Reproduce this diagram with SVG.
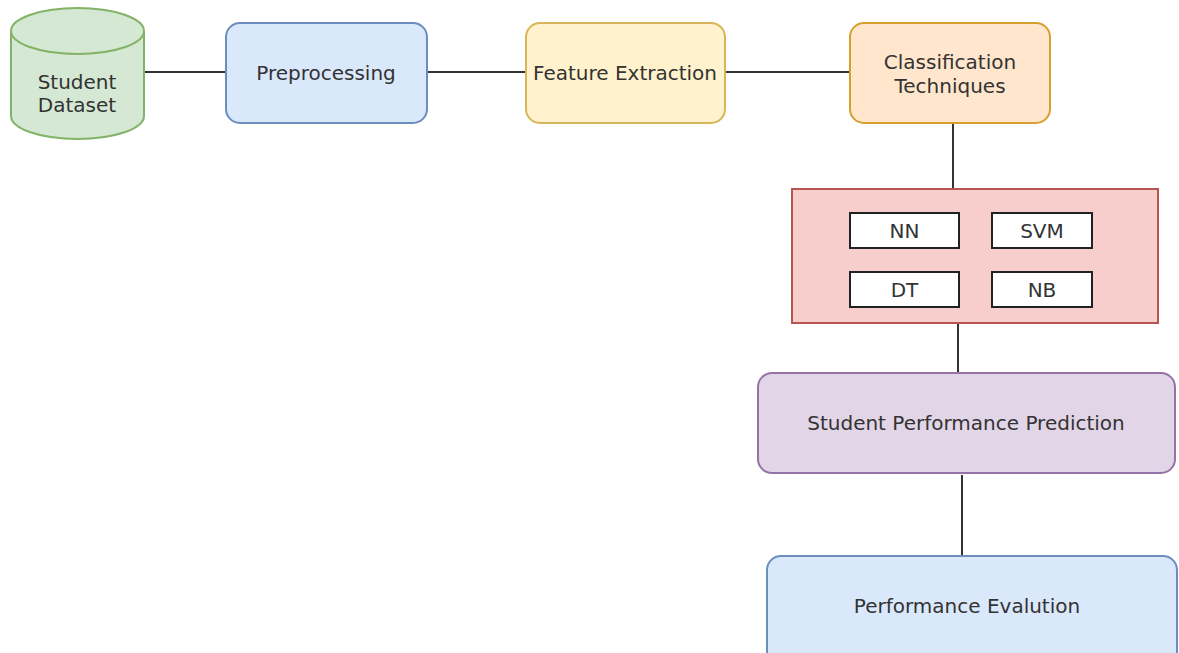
<svg xmlns="http://www.w3.org/2000/svg" width="1179" height="653" viewBox="0 0 1179 653">
<style>
text{font-family:"DejaVu Sans","Liberation Sans",sans-serif;font-size:20px;fill:#333;text-anchor:middle;dominant-baseline:central}
.edge{stroke:#333;stroke-width:2;fill:none}
.algo{fill:#fff;stroke:#222;stroke-width:2}
</style>
<rect width="1179" height="653" fill="#fff"/>
<g id="connectors">
<line class="edge" x1="144" y1="72" x2="226" y2="72"/>
<line class="edge" x1="427" y1="72" x2="526" y2="72"/>
<line class="edge" x1="725" y1="72" x2="850" y2="72"/>
<line class="edge" x1="953" y1="123" x2="953" y2="189"/>
<line class="edge" x1="958" y1="323" x2="958" y2="373"/>
<line class="edge" x1="962" y1="475" x2="962" y2="556"/>
</g>
<g id="student-dataset">
<path d="M11,31 L11,116 A66.5,23 0 0 0 144,116 L144,31 A66.5,23 0 0 0 11,31 Z" fill="#d5e8d4" stroke="#82b366" stroke-width="2"/>
<path d="M11,31 A66.5,23 0 0 0 144,31" fill="none" stroke="#82b366" stroke-width="2"/>
<text x="77" y="82">Student</text>
<text x="77" y="105">Dataset</text>
</g>
<g id="preprocessing">
<rect x="226" y="23" width="201" height="100" rx="14" fill="#dae8fc" stroke="#6c8ebf" stroke-width="2"/>
<text x="326" y="73">Preprocessing</text>
</g>
<g id="feature-extraction">
<rect x="526" y="23" width="199" height="100" rx="14" fill="#fff2cc" stroke="#d6b656" stroke-width="2"/>
<text x="625" y="73">Feature Extraction</text>
</g>
<g id="classification">
<rect x="850" y="23" width="200" height="100" rx="14" fill="#ffe6cc" stroke="#d6a030" stroke-width="2"/>
<text x="950" y="62">Classification</text>
<text x="950" y="86">Techniques</text>
</g>
<g id="algorithms">
<rect x="792" y="189" width="366" height="134" fill="#f8cecc" stroke="#b85450" stroke-width="2"/>
<g id="nn"><rect class="algo" x="850" y="213" width="109" height="35"/><text x="904.5" y="231">NN</text></g>
<g id="svm"><rect class="algo" x="992" y="213" width="100" height="35"/><text x="1042" y="231">SVM</text></g>
<g id="dt"><rect class="algo" x="850" y="272" width="109" height="35"/><text x="904.5" y="290">DT</text></g>
<g id="nb"><rect class="algo" x="992" y="272" width="100" height="35"/><text x="1042" y="290">NB</text></g>
</g>
<g id="prediction">
<rect x="758" y="373" width="417" height="100" rx="14" fill="#e1d5e7" stroke="#9673a6" stroke-width="2"/>
<text x="966" y="423">Student Performance Prediction</text>
</g>
<g id="evaluation">
<rect x="767" y="556" width="410" height="110" rx="14" fill="#dae8fc" stroke="#6c8ebf" stroke-width="2"/>
<text x="967" y="606">Performance Evalution</text>
</g>
</svg>
